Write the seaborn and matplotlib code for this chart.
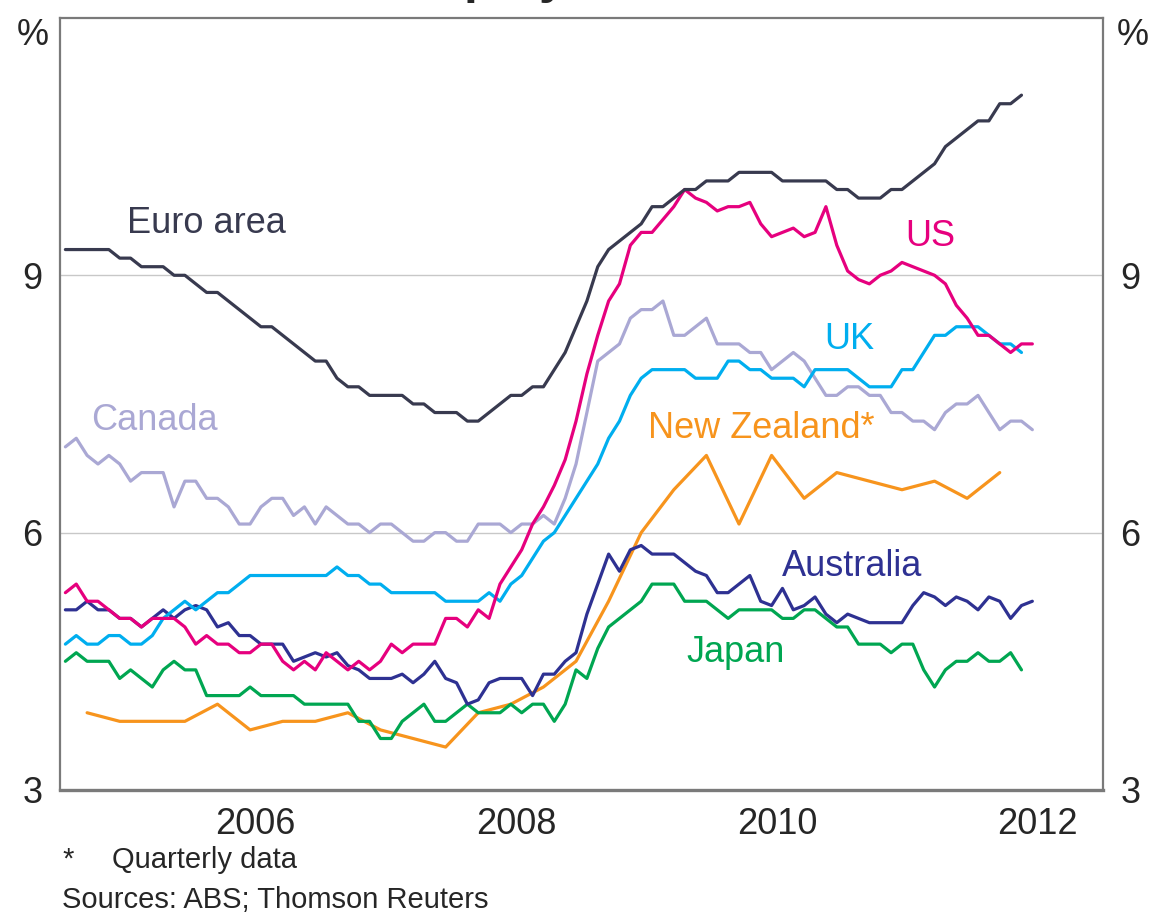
import numpy as np
import pandas as pd
import matplotlib
matplotlib.use('Agg')
import matplotlib.pyplot as plt
import seaborn as sns

# monthly data, Jan 2005 onwards
euro = [9.3, 9.3, 9.3, 9.3, 9.3, 9.2, 9.2, 9.1, 9.1, 9.1,
        9.0, 9.0, 8.9, 8.8, 8.8, 8.7, 8.6, 8.5, 8.4, 8.4,
        8.3, 8.2, 8.1, 8.0, 8.0, 7.8, 7.7, 7.7, 7.6, 7.6,
        7.6, 7.6, 7.5, 7.5, 7.4, 7.4, 7.4, 7.3, 7.3, 7.4,
        7.5, 7.6, 7.6, 7.7, 7.7, 7.9, 8.1, 8.4, 8.7, 9.1,
        9.3, 9.4, 9.5, 9.6, 9.8, 9.8, 9.9, 10.0, 10.0, 10.1,
        10.1, 10.1, 10.2, 10.2, 10.2, 10.2, 10.1, 10.1, 10.1, 10.1,
        10.1, 10.0, 10.0, 9.9, 9.9, 9.9, 10.0, 10.0, 10.1, 10.2,
        10.3, 10.5, 10.6, 10.7, 10.8, 10.8, 11.0, 11.0, 11.1]

us = [5.3, 5.4, 5.2, 5.2, 5.1, 5.0, 5.0, 4.9, 5.0, 5.0,
      5.0, 4.9, 4.7, 4.8, 4.7, 4.7, 4.6, 4.6, 4.7, 4.7,
      4.5, 4.4, 4.5, 4.4, 4.6, 4.5, 4.4, 4.5, 4.4, 4.5,
      4.7, 4.6, 4.7, 4.7, 4.7, 5.0, 5.0, 4.9, 5.1, 5.0,
      5.4, 5.6, 5.8, 6.1, 6.3, 6.55, 6.85, 7.3, 7.85, 8.3,
      8.7, 8.9, 9.35, 9.5, 9.5, 9.65, 9.8, 10.0, 9.9, 9.85,
      9.75, 9.8, 9.8, 9.85, 9.6, 9.45, 9.5, 9.55, 9.45, 9.5,
      9.8, 9.35, 9.05, 8.95, 8.9, 9.0, 9.05, 9.15, 9.1, 9.05,
      9.0, 8.9, 8.65, 8.5, 8.3, 8.3, 8.2, 8.1, 8.2, 8.2]

uk = [4.7, 4.8, 4.7, 4.7, 4.8, 4.8, 4.7, 4.7, 4.8, 5.0,
      5.1, 5.2, 5.1, 5.2, 5.3, 5.3, 5.4, 5.5, 5.5, 5.5,
      5.5, 5.5, 5.5, 5.5, 5.5, 5.6, 5.5, 5.5, 5.4, 5.4,
      5.3, 5.3, 5.3, 5.3, 5.3, 5.2, 5.2, 5.2, 5.2, 5.3,
      5.2, 5.4, 5.5, 5.7, 5.9, 6.0, 6.2, 6.4, 6.6, 6.8,
      7.1, 7.3, 7.6, 7.8, 7.9, 7.9, 7.9, 7.9, 7.8, 7.8,
      7.8, 8.0, 8.0, 7.9, 7.9, 7.8, 7.8, 7.8, 7.7, 7.9,
      7.9, 7.9, 7.9, 7.8, 7.7, 7.7, 7.7, 7.9, 7.9, 8.1,
      8.3, 8.3, 8.4, 8.4, 8.4, 8.3, 8.2, 8.2, 8.1]

canada = [7.0, 7.1, 6.9, 6.8, 6.9, 6.8, 6.6, 6.7, 6.7, 6.7,
          6.3, 6.6, 6.6, 6.4, 6.4, 6.3, 6.1, 6.1, 6.3, 6.4,
          6.4, 6.2, 6.3, 6.1, 6.3, 6.2, 6.1, 6.1, 6.0, 6.1,
          6.1, 6.0, 5.9, 5.9, 6.0, 6.0, 5.9, 5.9, 6.1, 6.1,
          6.1, 6.0, 6.1, 6.1, 6.2, 6.1, 6.4, 6.8, 7.4, 8.0,
          8.1, 8.2, 8.5, 8.6, 8.6, 8.7, 8.3, 8.3, 8.4, 8.5,
          8.2, 8.2, 8.2, 8.1, 8.1, 7.9, 8.0, 8.1, 8.0, 7.8,
          7.6, 7.6, 7.7, 7.7, 7.6, 7.6, 7.4, 7.4, 7.3, 7.3,
          7.2, 7.4, 7.5, 7.5, 7.6, 7.4, 7.2, 7.3, 7.3, 7.2]

australia = [5.1, 5.1, 5.2, 5.1, 5.1, 5.0, 5.0, 4.9, 5.0, 5.1,
             5.0, 5.1, 5.15, 5.1, 4.9, 4.95, 4.8, 4.8, 4.7, 4.7,
             4.7, 4.5, 4.55, 4.6, 4.55, 4.6, 4.45, 4.4, 4.3, 4.3,
             4.3, 4.35, 4.25, 4.35, 4.5, 4.3, 4.25, 4.0, 4.05, 4.25,
             4.3, 4.3, 4.3, 4.1, 4.35, 4.35, 4.5, 4.6, 5.05, 5.4,
             5.75, 5.55, 5.8, 5.85, 5.75, 5.75, 5.75, 5.65, 5.55, 5.5,
             5.3, 5.3, 5.4, 5.5, 5.2, 5.15, 5.35, 5.1, 5.15, 5.25,
             5.05, 4.95, 5.05, 5.0, 4.95, 4.95, 4.95, 4.95, 5.15, 5.3,
             5.25, 5.15, 5.25, 5.2, 5.1, 5.25, 5.2, 5.0, 5.15, 5.2]

japan = [4.5, 4.6, 4.5, 4.5, 4.5, 4.3, 4.4, 4.3, 4.2, 4.4,
         4.5, 4.4, 4.4, 4.1, 4.1, 4.1, 4.1, 4.2, 4.1, 4.1,
         4.1, 4.1, 4.0, 4.0, 4.0, 4.0, 4.0, 3.8, 3.8, 3.6,
         3.6, 3.8, 3.9, 4.0, 3.8, 3.8, 3.9, 4.0, 3.9, 3.9,
         3.9, 4.0, 3.9, 4.0, 4.0, 3.8, 4.0, 4.4, 4.3, 4.65,
         4.9, 5.0, 5.1, 5.2, 5.4, 5.4, 5.4, 5.2, 5.2, 5.2,
         5.1, 5.0, 5.1, 5.1, 5.1, 5.1, 5.0, 5.0, 5.1, 5.1,
         5.0, 4.9, 4.9, 4.7, 4.7, 4.7, 4.6, 4.7, 4.7, 4.4,
         4.2, 4.4, 4.5, 4.5, 4.6, 4.5, 4.5, 4.6, 4.4]

# quarterly, Mar 2005 to Mar 2012 (plotted at quarter-end month)
nz = [3.9, 3.8, 3.8, 3.8, 4.0, 3.7, 3.8, 3.8, 3.9, 3.7,
      3.6, 3.5, 3.9, 4.0, 4.2, 4.5, 5.2, 6.0, 6.5, 6.9,
      6.1, 6.9, 6.4, 6.7, 6.6, 6.5, 6.6, 6.4, 6.7]

colors = {'Euro area': '#383a4f', 'US': '#e6007e', 'UK': '#00aeef',
          'Canada': '#aaa8d4', 'New Zealand*': '#f7941d',
          'Australia': '#2e3192', 'Japan': '#00a651'}


def month_pos(idx):
    # centre of the month, in decimal years
    return 2005 + (np.asarray(idx) + 0.5) / 12


frames = []
for name, vals in [('Canada', canada), ('Japan', japan), ('Australia', australia),
                   ('UK', uk), ('US', us), ('Euro area', euro)]:
    frames.append(pd.DataFrame({'t': month_pos(np.arange(len(vals))),
                                'rate': vals, 'series': name}))
frames.insert(1, pd.DataFrame({'t': month_pos(2 + 3 * np.arange(len(nz))),
                               'rate': nz, 'series': 'New Zealand*'}))
df = pd.concat(frames, ignore_index=True)

sns.set_style('white')
plt.rcParams['font.family'] = ['Liberation Sans', 'DejaVu Sans']

fig = plt.figure(figsize=(11.53, 9.16), dpi=100)
ax = fig.add_axes([0.052, 0.1376, 0.9046, 0.8428])

sns.lineplot(data=df, x='t', y='rate', hue='series', palette=colors,
             estimator=None, linewidth=2.3, legend=False, ax=ax)

ax.set_xlim(2005, 2013)
ax.set_ylim(3, 12)
ax.set_xlabel('')
ax.set_ylabel('')

ax.set_yticks([3, 6, 9])
ax.set_yticklabels(['3', '6', '9'])
ax.yaxis.grid(True, color='#c8c8c8', linewidth=1.0)
ax.tick_params(axis='y', which='both', left=False, right=False,
               labelleft=True, labelright=True, labelsize=26, pad=9)

ax.set_xticks([2006.5, 2008.5, 2010.5, 2012.5])
ax.set_xticklabels(['2006', '2008', '2010', '2012'])
ax.set_xticks(np.arange(2006, 2013), minor=True)
ax.tick_params(axis='x', which='major', length=0, labelsize=26, pad=12)
ax.tick_params(axis='x', which='minor', direction='in', length=10,
               width=1.0, color='#333333')

for side, sp in ax.spines.items():
    sp.set_visible(True)
    sp.set_color('#7a7a7a')
    sp.set_linewidth(1.6)
ax.spines['bottom'].set_linewidth(2.4)

ax.text(-0.011, 1.0, '%', transform=ax.transAxes, ha='right', va='top', fontsize=26)
ax.text(1.013, 1.0, '%', transform=ax.transAxes, ha='left', va='top', fontsize=26)

# series labels
labels = [('Euro area', 2005.514, 9.49), ('US', 2011.48, 9.34),
          ('UK', 2010.866, 8.14), ('Canada', 2005.238, 7.20),
          ('New Zealand*', 2009.509, 7.10), ('Australia', 2010.534, 5.50),
          ('Japan', 2009.806, 4.49)]
for name, lx, ly in labels:
    ax.text(lx, ly, name, color=colors[name], fontsize=26, va='baseline', ha='left')

fig.text(0.504, 1.008, 'Unemployment Rates', ha='center', va='baseline',
         fontsize=36, fontweight='bold')
fig.text(0.054, 0.0524, '*', fontsize=21, va='baseline')
fig.text(0.097, 0.0524, 'Quarterly data', fontsize=21, va='baseline')
fig.text(0.054, 0.0087, 'Sources: ABS; Thomson Reuters', fontsize=21, va='baseline')

fig.savefig('out.png', dpi=100)
